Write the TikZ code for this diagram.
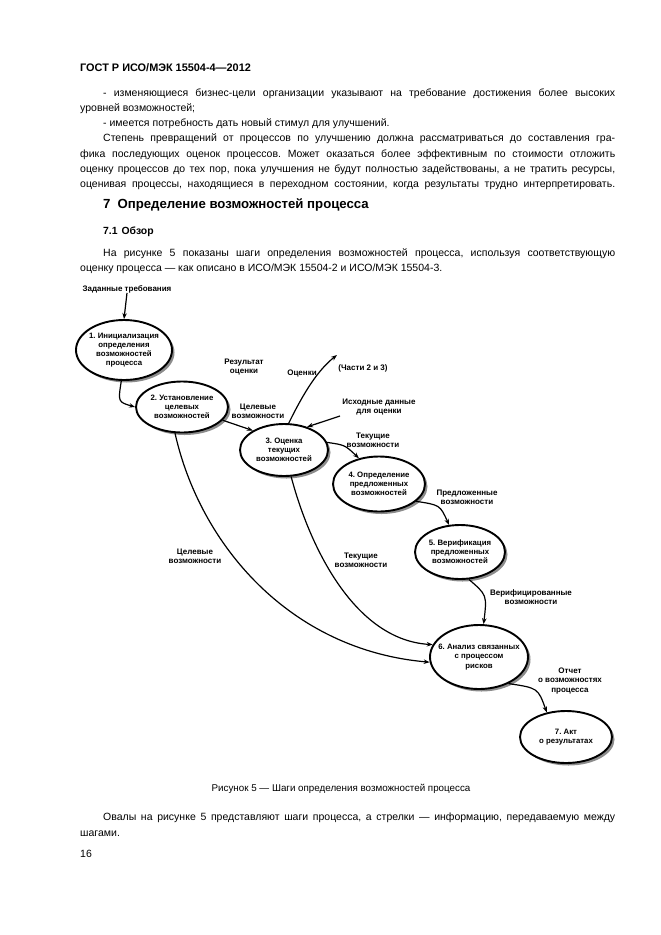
\documentclass[tikz,border=0pt]{standalone}
\usepackage{fontspec}
\setmainfont{Liberation Sans}
\usetikzlibrary{shapes.geometric,arrows.meta,shadows}
\begin{document}
\frenchspacing
\begin{tikzpicture}[x=1pt,y=-1pt,
  body/.style={anchor=base west, inner sep=0pt, font=\fontsize{10.5}{12}\selectfont},
  oval/.style={ellipse, draw, line width=1.9pt, fill=white, inner sep=0pt,
    drop shadow={shadow xshift=2.5pt,shadow yshift=-2.5pt,fill=black!45,opacity=1}},
  ovaltext/.style={align=center, inner sep=0pt, font=\fontsize{7.8}{9.2}\selectfont\bfseries},
  lbl/.style={align=center, inner sep=0pt, font=\fontsize{8}{9.4}\selectfont\bfseries},
  conn/.style={line width=1.2pt, -{Stealth[length=6pt,width=4.5pt]}}
]
\useasboundingbox (0,0) rectangle (661,935);
\fill[white] (0,0) rectangle (661,935);

% ---- page text ----
\node[body, font=\fontsize{10.9}{12}\selectfont\bfseries] (hdr) at (80,71) {ГОСТ Р ИСО/МЭК 15504-4—2012};
\node[body] (l1) at (103,96) {\makebox[512pt][s]{- изменяющиеся бизнес-цели организации указывают на требование достижения более высоких}};
\node[body] (l2) at (80,111) {уровней возможностей;};
\node[body] (l3) at (103,126) {- имеется потребность дать новый стимул для улучшений.};
\node[body] (l4) at (103,141) {\makebox[512pt][s]{Степень превращений от процессов по улучшению должна рассматриваться до составления гра-}};
\node[body] (l5) at (80,157) {\makebox[535pt][s]{фика последующих оценок процессов. Может оказаться более эффективным по стоимости отложить}};
\node[body] (l6) at (80,172) {\makebox[535pt][s]{оценку процессов до тех пор, пока улучшения не будут полностью задействованы, а не тратить ресурсы,}};
\node[body] (l7) at (80,187) {\makebox[535pt][s]{оценивая процессы, находящиеся в переходном состоянии, когда результаты трудно интерпретировать.}};
\node[body, font=\fontsize{13.2}{15}\selectfont\bfseries] (sec) at (103,208) {7\hspace{7pt}Определение возможностей процесса};
\node[body, font=\fontsize{10.4}{12}\selectfont\bfseries] (sub) at (103,234) {7.1\hspace{4pt}Обзор};
\node[body] (l8) at (103,256) {\makebox[512pt][s]{На рисунке 5 показаны шаги определения возможностей процесса, используя соответствующую}};
\node[body] (l9) at (80,271) {оценку процесса — как описано в ИСО/МЭК 15504-2 и ИСО/МЭК 15504-3.};

\node[anchor=base, inner sep=0pt, font=\fontsize{9.8}{11}\selectfont] (cap) at (341,791) {Рисунок 5 — Шаги определения возможностей процесса};
\node[body] (l10) at (103,820) {\makebox[512pt][s]{Овалы на рисунке 5 представляют шаги процесса, а стрелки — информацию, передаваемую между}};
\node[body] (l11) at (80,836) {шагами.};
\node[body] (pg) at (80,857) {16};

% ---- diagram ----
\node[lbl] (req) at (127,289) {Заданные требования};

\node[oval, minimum width=96pt, minimum height=60pt] (e1) at (124,350) {};
\node[ovaltext] (t1) at (e1.center) {1. Инициализация\\определения\\возможностей\\процесса};
\node[oval, minimum width=92pt, minimum height=51pt] (e2) at (182,407) {};
\node[ovaltext] (t2) at (e2.center) {2. Установление\\целевых\\возможностей};
\node[oval, minimum width=88pt, minimum height=52pt] (e3) at (284,450) {};
\node[ovaltext] (t3) at (e3.center) {3. Оценка\\текущих\\возможностей};
\node[oval, minimum width=92pt, minimum height=55pt] (e4) at (379,484) {};
\node[ovaltext] (t4) at (e4.center) {4. Определение\\предложенных\\возможностей};
\node[oval, minimum width=90pt, minimum height=54pt] (e5) at (460,552) {};
\node[ovaltext] (t5) at (e5.center) {5. Верификация\\предложенных\\возможностей};
\node[oval, minimum width=98pt, minimum height=64pt] (e6) at (479,657) {};
\node[ovaltext] (t6) at (e6.center) {6. Анализ связанных\\с процессом\\рисков};
\node[oval, minimum width=92pt, minimum height=52pt] (e7) at (566,737) {};
\node[ovaltext] (t7) at (e7.center) {7. Акт\\о результатах};

\node[lbl] (res) at (244,367) {Результат\\оценки};
\node[lbl] (oc) at (302,373) {Оценки};
\node[lbl] (parts) at (363,368) {(Части 2 и 3)};
\node[lbl] (tc1) at (258,411) {Целевые\\возможности};
\node[lbl] (inp) at (379,407) {Исходные данные\\для оценки};
\node[lbl] (cur1) at (373,440) {Текущие\\возможности};
\node[lbl] (prop) at (467,497) {Предложенные\\возможности};
\node[lbl] (ver) at (531,597) {Верифицированные\\возможности};
\node[lbl] (rep) at (570,681) {Отчет\\о возможностях\\процесса};
\node[lbl] (tc2) at (195,556) {Целевые\\возможности};
\node[lbl] (cur2) at (361,560) {Текущие\\возможности};

\coordinate (ocend) at (337,355);
\coordinate (instart) at (340,416);

\draw[conn] (req.south) -- (e1.north);
\draw[conn] (e1.265) .. controls (118,402) .. (e2.west);
\draw[conn] (e2.-18) -- (e3.148);
\draw[conn] (e3.80) .. controls (304,392) and (318,370) .. (ocend);
\draw[conn] (instart) -- (e3.45);
\draw[conn] (e3.10) .. controls (345,445) .. (e4.128);
\draw[conn] (e4.-25) .. controls (440,505) .. (e5.112);
\draw[conn] (e5.-72) .. controls (487,595) .. (e6.82);
\draw[conn] (e6.-42) .. controls (538,688) .. (e7.128);
\draw[conn] (e2.255) .. controls (200,545) and (290,650) .. (e6.186);
\draw[conn] (e3.285) .. controls (310,548) and (355,640) .. (e6.165);
\end{tikzpicture}
\end{document}
